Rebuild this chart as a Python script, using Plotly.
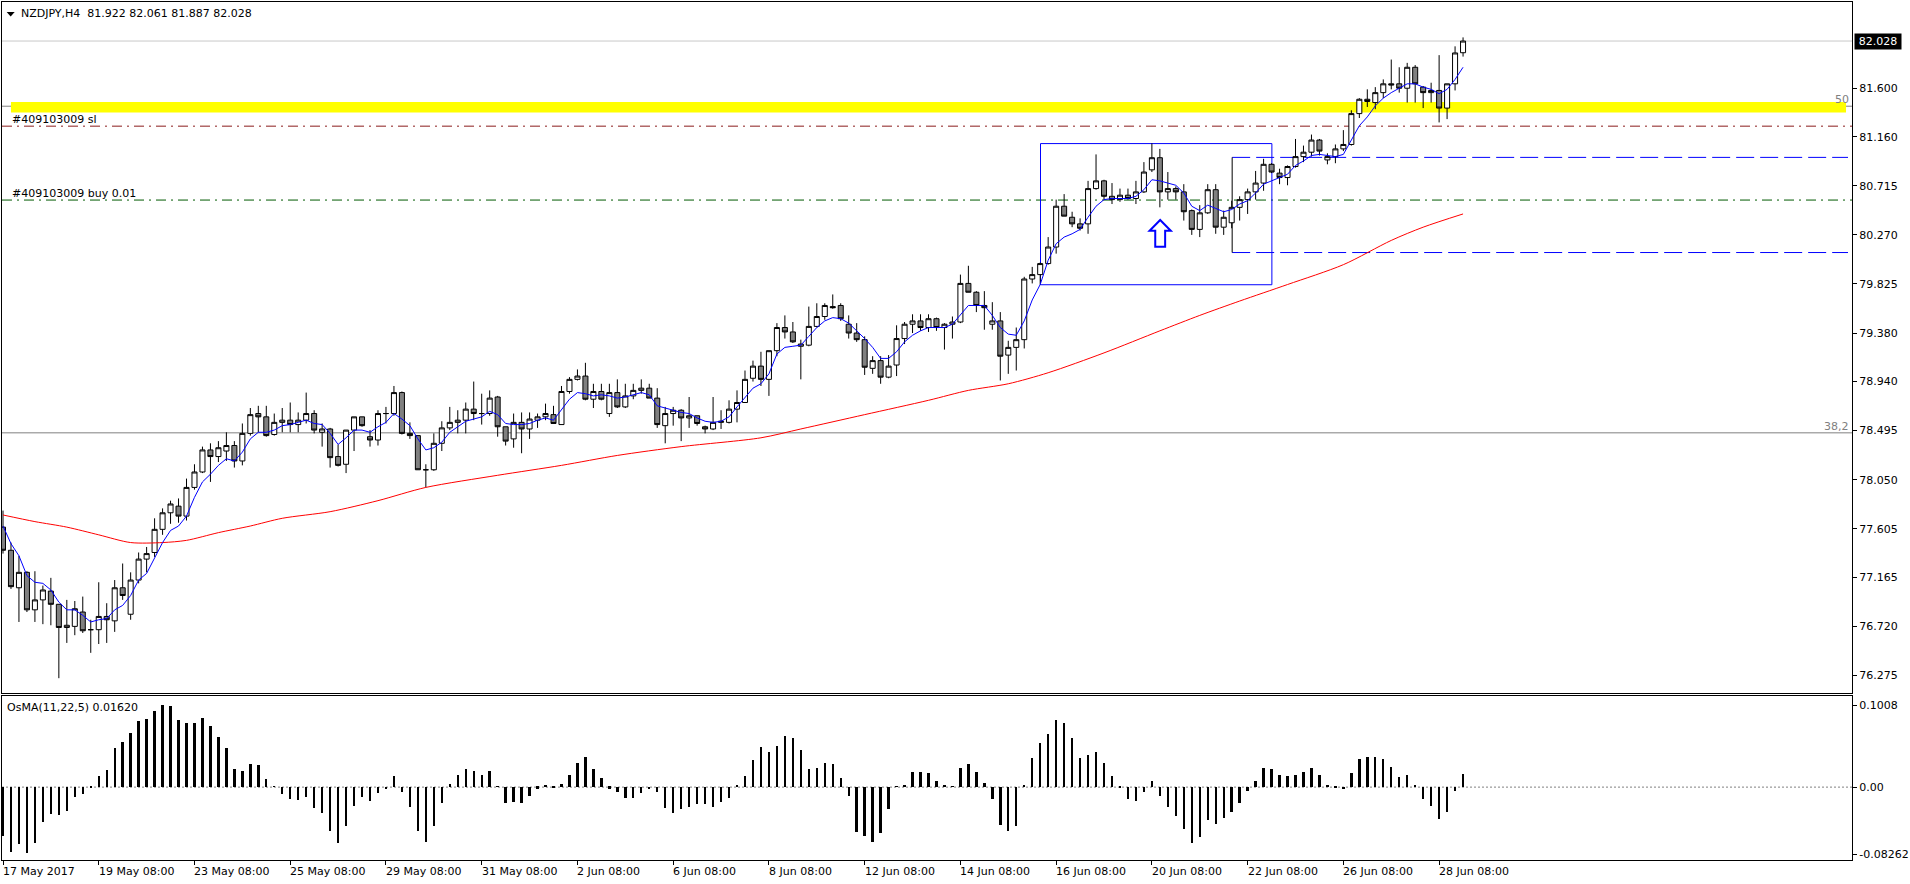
import plotly.graph_objects as go

# ---------------- data ----------------
bars = list(range(184))

open_ = [77.62,77.41,77.07,77.21,76.87,76.96,77.04,76.92,76.71,76.72,76.85,76.69,76.69,76.81,76.77,77.07,76.83,77.14,77.33,77.39,
         77.60,77.75,77.81,77.72,77.98,78.12,78.32,78.26,78.31,78.36,78.22,78.47,78.65,78.62,78.46,78.57,78.59,78.55,78.59,78.65,
         78.48,78.51,78.26,78.19,78.50,78.62,78.44,78.41,78.65,78.65,78.84,78.47,78.45,78.14,78.14,78.38,78.52,78.57,78.59,78.69,
         78.65,78.65,78.80,78.53,78.42,78.57,78.51,78.59,78.62,78.64,78.55,78.85,78.96,78.99,78.78,78.85,78.65,78.84,78.71,78.81,
         78.86,78.88,78.79,78.54,78.65,78.68,78.61,78.63,78.53,78.51,78.57,78.57,78.69,78.75,78.97,79.08,78.96,79.22,79.43,79.39,
         79.26,79.27,79.44,79.53,79.62,79.63,79.46,79.38,79.32,79.06,79.13,78.98,79.09,79.33,79.46,79.49,79.43,79.51,79.43,79.46,
         79.48,79.83,79.75,79.63,79.46,79.49,79.18,79.25,79.32,79.87,79.91,80.01,80.16,80.53,80.43,80.37,80.37,80.69,80.76,80.62,
         80.59,80.63,80.60,80.66,80.86,80.97,80.66,80.69,80.66,80.49,80.32,80.47,80.68,80.34,80.38,80.52,80.59,80.66,80.74,80.91,
         80.83,80.79,80.89,80.98,81.02,81.13,80.95,80.98,81.05,81.09,81.37,81.50,81.47,81.56,81.64,81.64,81.60,81.79,81.61,81.56,
         81.58,81.42,81.64,81.922]
high = [77.77,77.48,77.36,77.22,77.22,77.09,77.16,76.92,76.96,76.95,76.99,76.78,77.12,76.93,77.14,77.29,77.21,77.39,77.44,77.70,
        77.79,77.86,77.88,78.06,78.19,78.35,78.38,78.40,78.48,78.40,78.56,78.70,78.72,78.72,78.65,78.70,78.75,78.66,78.84,78.68,
        78.56,78.52,78.37,78.50,78.62,78.62,78.50,78.68,78.71,78.90,78.85,78.57,78.45,78.19,78.47,78.58,78.71,78.68,78.75,78.94,
        78.83,78.86,78.81,78.53,78.65,78.66,78.66,78.65,78.74,78.72,78.90,78.98,79.05,79.11,78.92,78.92,78.92,78.96,78.92,78.92,
        78.96,78.92,78.88,78.71,78.71,78.69,78.80,78.63,78.54,78.80,78.68,78.77,78.86,79.04,79.13,79.21,79.22,79.47,79.54,79.48,
        79.32,79.62,79.65,79.65,79.73,79.65,79.54,79.47,79.35,79.17,79.17,79.18,79.45,79.48,79.55,79.55,79.55,79.52,79.47,79.53,
        79.91,79.99,79.76,79.76,79.66,79.57,79.31,79.43,79.89,79.98,80.02,80.25,80.59,80.64,80.48,80.42,80.76,81.00,80.77,80.74,
        80.69,80.69,80.76,80.93,81.10,81.05,80.84,80.71,80.73,80.50,80.54,80.73,80.73,80.49,80.58,80.62,80.69,80.85,80.96,80.92,
        80.87,80.90,81.14,81.08,81.18,81.14,81.01,81.09,81.22,81.40,81.51,81.59,81.61,81.68,81.86,81.79,81.83,81.81,81.62,81.65,
        81.90,81.64,81.98,82.061]
low = [77.38,77.06,76.76,76.85,76.76,76.74,76.73,76.25,76.57,76.64,76.66,76.48,76.56,76.57,76.67,76.96,76.78,77.11,77.21,77.35,
       77.55,77.65,77.66,77.68,77.96,78.11,78.03,78.21,78.22,78.16,78.18,78.45,78.48,78.44,78.45,78.48,78.48,78.48,78.56,78.47,
       78.35,78.16,78.17,78.11,78.31,78.53,78.35,78.36,78.56,78.63,78.46,78.42,78.14,77.98,78.13,78.31,78.50,78.47,78.47,78.59,
       78.55,78.63,78.44,78.36,78.34,78.29,78.42,78.52,78.59,78.56,78.55,78.83,78.95,78.77,78.70,78.77,78.62,78.70,78.70,78.78,
       78.83,78.79,78.52,78.38,78.54,78.40,78.52,78.54,78.47,78.50,78.51,78.56,78.57,78.75,78.94,78.90,78.81,79.17,79.33,79.29,
       78.96,79.26,79.43,79.50,79.60,79.49,79.33,79.30,79.00,79.01,78.92,78.97,78.99,79.28,79.38,79.40,79.39,79.40,79.23,79.33,
       79.47,79.75,79.57,79.41,79.41,78.95,79.01,79.04,79.24,79.83,79.82,80.00,80.10,80.44,80.34,80.31,80.28,80.68,80.59,80.55,
       80.57,80.59,80.55,80.65,80.84,80.52,80.59,80.59,80.40,80.27,80.25,80.46,80.28,80.27,80.33,80.40,80.46,80.59,80.67,80.83,
       80.73,80.72,80.88,80.93,80.98,80.99,80.91,80.92,81.03,81.08,81.33,81.43,81.41,81.51,81.59,81.56,81.47,81.47,81.42,81.47,
       81.29,81.32,81.58,81.887]
close = [77.41,77.08,77.21,76.87,76.96,77.05,76.92,76.71,76.73,76.88,76.68,76.69,76.81,76.78,77.07,77.00,77.14,77.33,77.38,77.60,
         77.75,77.83,77.72,77.98,78.12,78.32,78.26,78.34,78.36,78.22,78.47,78.64,78.62,78.45,78.57,78.59,78.55,78.59,78.65,78.50,
         78.51,78.25,78.18,78.50,78.62,78.54,78.41,78.65,78.65,78.84,78.47,78.45,78.14,78.14,78.38,78.52,78.57,78.59,78.69,78.65,
         78.65,78.79,78.53,78.40,78.57,78.51,78.60,78.62,78.65,78.56,78.85,78.96,78.99,78.78,78.85,78.78,78.84,78.71,78.81,78.86,
         78.88,78.79,78.55,78.65,78.68,78.61,78.63,78.56,78.51,78.57,78.58,78.69,78.75,78.96,79.08,78.96,79.22,79.43,79.39,79.30,
         79.28,79.44,79.53,79.63,79.61,79.51,79.38,79.32,79.07,79.13,78.98,79.08,79.33,79.46,79.49,79.43,79.51,79.43,79.46,79.48,
         79.83,79.75,79.63,79.61,79.49,79.17,79.25,79.32,79.87,79.91,80.01,80.16,80.53,80.44,80.37,80.33,80.69,80.76,80.62,80.59,
         80.63,80.60,80.66,80.84,80.97,80.66,80.69,80.66,80.48,80.32,80.47,80.68,80.34,80.43,80.52,80.59,80.66,80.74,80.91,80.84,
         80.79,80.89,80.98,81.02,81.13,81.03,80.98,81.05,81.09,81.37,81.50,81.48,81.56,81.64,81.63,81.60,81.79,81.64,81.56,81.58,
         81.42,81.64,81.92,82.028]

ma_fast = [77.63,77.47,77.36,77.18,77.12,77.11,77.05,76.94,76.87,76.87,76.82,76.76,76.78,76.79,76.87,76.91,77.00,77.14,77.20,77.34,
           77.48,77.59,77.63,77.72,77.89,78.03,78.10,78.18,78.24,78.22,78.30,78.42,78.48,78.48,78.50,78.54,78.55,78.57,78.59,78.56,
           78.55,78.47,78.37,78.43,78.50,78.50,78.48,78.53,78.57,78.65,78.60,78.54,78.42,78.32,78.34,78.39,78.48,78.53,78.58,78.60,
           78.62,78.67,78.64,78.56,78.55,78.55,78.56,78.59,78.61,78.59,78.69,78.78,78.84,78.83,78.81,78.82,78.81,78.79,78.80,78.82,
           78.84,78.82,78.72,78.70,78.68,78.66,78.65,78.61,78.58,78.57,78.58,78.62,78.71,78.79,78.88,78.92,79.01,79.19,79.25,79.26,
           79.27,79.35,79.43,79.49,79.52,79.51,79.47,79.40,79.33,79.25,79.15,79.15,79.21,79.30,79.36,79.40,79.43,79.43,79.43,79.46,
           79.54,79.63,79.63,79.63,79.54,79.43,79.37,79.36,79.49,79.68,79.82,80.04,80.19,80.25,80.28,80.32,80.43,80.53,80.59,80.60,
           80.60,80.60,80.62,80.68,80.77,80.76,80.74,80.72,80.65,80.53,80.49,80.54,80.51,80.48,80.50,80.55,80.58,80.65,80.73,80.76,
           80.79,80.82,80.90,80.94,80.99,81.00,80.99,80.98,81.00,81.13,81.26,81.34,81.44,81.51,81.56,81.60,81.64,81.64,81.61,81.59,
           81.55,81.59,81.68,81.79]

ma_slow_bars = [0, 4, 8, 12, 16, 20, 23, 27, 31, 35, 41, 47, 53, 62, 70, 77, 85, 95, 100, 108, 116, 121, 126, 131, 138, 145,
                150, 155, 161, 168, 174, 178, 183]
ma_slow = [77.73, 77.67, 77.62, 77.55, 77.48, 77.48, 77.50, 77.57, 77.63, 77.70, 77.76, 77.86, 77.98, 78.09, 78.18, 78.27, 78.35,
           78.43, 78.51, 78.64, 78.77, 78.86, 78.92, 79.02, 79.20, 79.40, 79.54, 79.67, 79.82, 80.00, 80.22, 80.34, 80.46]

osma = [-0.0598,-0.0795,-0.0705,-0.0807,-0.0684,-0.0434,-0.0328,-0.0340,-0.0291,-0.0119,-0.0082,-0.0004,0.0135,0.0209,0.0479,0.0553,
        0.0668,0.0811,0.0832,0.0934,0.1008,0.1000,0.0824,0.0783,0.0783,0.0844,0.0750,0.0619,0.0484,0.0217,0.0201,0.0283,0.0270,0.0098,
        0.0002,-0.0082,-0.0152,-0.0160,-0.0119,-0.0262,-0.0324,-0.0537,-0.0684,-0.0475,-0.0229,-0.0119,-0.0172,-0.0078,-0.0029,0.0135,
        -0.0066,-0.0242,-0.0537,-0.0672,-0.0475,-0.0201,0.0037,0.0143,0.0221,0.0197,0.0148,0.0201,0.0008,-0.0193,-0.0180,-0.0201,
        -0.0111,-0.0020,0.0012,-0.0016,0.0033,0.0148,0.0299,0.0365,0.0221,0.0107,-0.0020,-0.0057,-0.0139,-0.0131,-0.0070,-0.0025,
        -0.0057,-0.0262,-0.0316,-0.0275,-0.0242,-0.0209,-0.0213,-0.0242,-0.0180,-0.0131,0.0012,0.0135,0.0332,0.0496,0.0434,0.0504,
        0.0627,0.0598,0.0455,0.0221,0.0229,0.0299,0.0283,0.0107,-0.0111,-0.0549,-0.0602,-0.0672,-0.0561,-0.0275,0.0004,0.0012,
        0.0180,0.0180,0.0168,0.0078,0.0025,0.0008,0.0229,0.0283,0.0189,0.0049,-0.0152,-0.0463,-0.0537,-0.0475,0.0025,0.0357,
        0.0545,0.0652,0.0824,0.0791,0.0602,0.0352,0.0393,0.0430,0.0295,0.0135,-0.0012,-0.0143,-0.0168,-0.0057,0.0074,-0.0111,
        -0.0242,-0.0357,-0.0520,-0.0684,-0.0619,-0.0406,-0.0455,-0.0385,-0.0303,-0.0201,-0.0045,0.0078,0.0238,0.0221,0.0148,0.0135,
        0.0148,0.0189,0.0238,0.0148,0.0029,-0.0016,-0.0029,0.0176,0.0344,0.0373,0.0365,0.0340,0.0250,0.0123,0.0148,0.0012,
        -0.0148,-0.0234,-0.0393,-0.0307,-0.0045,0.0162]

price_ticks = [81.600, 81.160, 80.715, 80.270, 79.825, 79.380, 78.940, 78.495, 78.050, 77.605, 77.165, 76.720, 76.275]
osma_ticks = [0.1008, 0.0, -0.08262]
osma_tick_text = ["0.1008", "0.00", "-0.08262"]
time_tick_bars = [0, 12, 24, 36, 48, 60, 72, 84, 96, 108, 120, 132, 144, 156, 168, 180]
time_tick_labels = ["17 May 2017", "19 May 08:00", "23 May 08:00", "25 May 08:00", "29 May 08:00", "31 May 08:00",
                    "2 Jun 08:00", "6 Jun 08:00", "8 Jun 08:00", "12 Jun 08:00", "14 Jun 08:00", "16 Jun 08:00",
                    "20 Jun 08:00", "22 Jun 08:00", "26 Jun 08:00", "28 Jun 08:00"]

last_price = 82.028
fib50 = 81.437
fib382 = 78.475
sl_level = 81.256
buy_level = 80.586
box_top, box_bottom = 80.973, 80.110

# ---------------- figure ----------------
FONT = "DejaVu Sans"
W, H = 1910, 884
ML, MR, MT, MB = 2, 53, 1, 24
PW = W - ML - MR
PH = H - MT - MB


def py(v):  # pixel row -> paper y
    return (H - MB - v) / PH


def px(v):  # pixel col -> paper x
    return (v - ML) / PW


fig = go.Figure()
fig.add_trace(go.Candlestick(
    x=bars, open=open_, high=high, low=low, close=close,
    increasing=dict(fillcolor="white", line=dict(color="black", width=1)),
    decreasing=dict(fillcolor="#808080", line=dict(color="black", width=1)),
    whiskerwidth=0, xaxis="x", yaxis="y", showlegend=False, hoverinfo="skip"))
fig.add_trace(go.Scatter(x=ma_slow_bars, y=ma_slow, mode="lines",
                         line=dict(color="red", width=1, shape="spline", smoothing=0.8),
                         xaxis="x", yaxis="y", showlegend=False, hoverinfo="skip"))
fig.add_trace(go.Scatter(x=bars, y=ma_fast, mode="lines", line=dict(color="blue", width=1),
                         xaxis="x", yaxis="y", showlegend=False, hoverinfo="skip"))
fig.add_trace(go.Bar(x=bars, y=osma, width=0.3, marker=dict(color="black", line=dict(width=0)),
                     xaxis="x2", yaxis="y2", showlegend=False, hoverinfo="skip"))

xr = [-0.125, -0.125 + PW / 8]
axis_common = dict(showgrid=False, zeroline=False, showline=True, mirror=True, linecolor="black", linewidth=1)

fig.update_layout(
    width=W, height=H, margin=dict(l=ML, r=MR, t=MT, b=MB),
    paper_bgcolor="white", plot_bgcolor="white", showlegend=False, hovermode=False,
    font=dict(family=FONT, size=11, color="black"),
    boxgap=0.1, boxgroupgap=0.3, bargap=0,
    xaxis=dict(domain=[0, 1], anchor="y", range=xr, showticklabels=False, ticks="",
               rangeslider=dict(visible=False), **axis_common),
    yaxis=dict(domain=[py(693), 1], anchor="x", range=[76.114, 82.382], side="right",
               tickvals=price_ticks, ticktext=[f"{v:.3f}" for v in price_ticks],
               ticks="outside", ticklen=4, tickcolor="black", **axis_common),
    xaxis2=dict(domain=[0, 1], anchor="y2", matches="x", range=xr, tickvals=time_tick_bars,
                showticklabels=False, ticks="outside", ticklen=4, tickcolor="black", **axis_common),
    yaxis2=dict(domain=[0, py(696)], anchor="x2", range=[-0.0897, 0.1119], side="right",
                tickvals=osma_ticks, ticktext=osma_tick_text,
                ticks="outside", ticklen=4, tickcolor="black", **axis_common),
)

shapes = []
# yellow fib band
shapes.append(dict(type="rect", xref="x", yref="y", x0=1.0, x1=231.0, y0=81.379, y1=81.476,
                   fillcolor="#ffff00", line=dict(width=0), layer="below"))
# current price line
shapes.append(dict(type="line", xref="paper", yref="y", x0=0, x1=1, y0=last_price, y1=last_price,
                   line=dict(color="#c8c8c8", width=1), layer="below"))
# fibo levels
for lv in (fib50, fib382):
    shapes.append(dict(type="line", xref="paper", yref="y", x0=0, x1=1, y0=lv, y1=lv,
                       line=dict(color="#808080", width=1), layer="below"))
# order lines
shapes.append(dict(type="line", xref="paper", yref="y", x0=0, x1=1, y0=sl_level, y1=sl_level,
                   line=dict(color="#8b1c1c", width=1, dash="10px,5px,2px,5px"), layer="below"))
shapes.append(dict(type="line", xref="paper", yref="y", x0=0, x1=1, y0=buy_level, y1=buy_level,
                   line=dict(color="#005a00", width=1, dash="10px,5px,2px,5px"), layer="below"))
# blue dashed levels
for lv in (box_top, box_bottom):
    shapes.append(dict(type="line", xref="x", yref="y", x0=154.06, x1=231.25, y0=lv, y1=lv,
                       line=dict(color="#0000ff", width=1, dash="18px,6px"), layer="below"))
shapes.append(dict(type="line", xref="x", yref="y", x0=154.06, x1=154.06, y0=box_bottom, y1=box_top,
                   line=dict(color="black", width=1), layer="below"))
# blue rectangle
shapes.append(dict(type="rect", xref="x", yref="y", x0=130.04, x1=159.04, y0=79.818, y1=81.098,
                   line=dict(color="#0000ff", width=1), fillcolor="rgba(0,0,0,0)", layer="below"))
# up arrow
ax, tip, mid, bot = 145.04, 80.405, 80.308, 80.163
hw, sw = 1.33, 0.62
path = (f"M {ax},{tip} L {ax+hw},{mid} L {ax+sw},{mid} L {ax+sw},{bot} L {ax-sw},{bot} "
        f"L {ax-sw},{mid} L {ax-hw},{mid} Z")
shapes.append(dict(type="path", xref="x", yref="y", path=path, fillcolor="white",
                   line=dict(color="#0000ff", width=2), layer="above"))
# OsMA zero line
shapes.append(dict(type="line", xref="paper", yref="y2", x0=0, x1=1, y0=0, y1=0,
                   line=dict(color="#808080", width=1, dash="2px,2px"), layer="below"))
# title triangle
shapes.append(dict(type="path", xref="paper", yref="paper",
                   path=f"M {px(6.7)},{py(11)} L {px(14.7)},{py(11)} L {px(10.7)},{py(15.5)} Z",
                   fillcolor="black", line=dict(width=0)))
fig.update_layout(shapes=shapes)

ann = []
ann.append(dict(text="NZDJPY,H4  81.922 82.061 81.887 82.028", xref="paper", yref="paper",
                x=px(19), y=py(12.7), xanchor="left", yanchor="middle", showarrow=False))
ann.append(dict(text="#409103009 sl", xref="paper", yref="y", x=px(10), y=81.313,
                xanchor="left", yanchor="middle", showarrow=False))
ann.append(dict(text="#409103009 buy 0.01", xref="paper", yref="y", x=px(10), y=80.645,
                xanchor="left", yanchor="middle", showarrow=False))
ann.append(dict(text="50", xref="paper", yref="y", x=px(1856), y=81.499,
                xanchor="right", yanchor="middle", showarrow=False, font=dict(color="#808080")))
ann.append(dict(text="38,2", xref="paper", yref="y", x=px(1856), y=78.537,
                xanchor="right", yanchor="middle", showarrow=False, font=dict(color="#808080")))
ann.append(dict(text="OsMA(11,22,5) 0.01620", xref="paper", yref="paper", x=px(5), y=py(707),
                xanchor="left", yanchor="middle", showarrow=False))
ann.append(dict(text="82.028", xref="paper", yref="y", x=px(1859), y=last_price,
                xanchor="left", yanchor="middle", showarrow=False, bgcolor="black",
                font=dict(color="white"), width=44, height=13, borderpad=1))
for b, t in zip(time_tick_bars, time_tick_labels):
    ann.append(dict(text=t, xref="x2", yref="paper", x=b, y=py(872), xanchor="left",
                    yanchor="middle", showarrow=False, xshift=-2))
fig.update_layout(annotations=ann)

fig.write_html("out.html")
